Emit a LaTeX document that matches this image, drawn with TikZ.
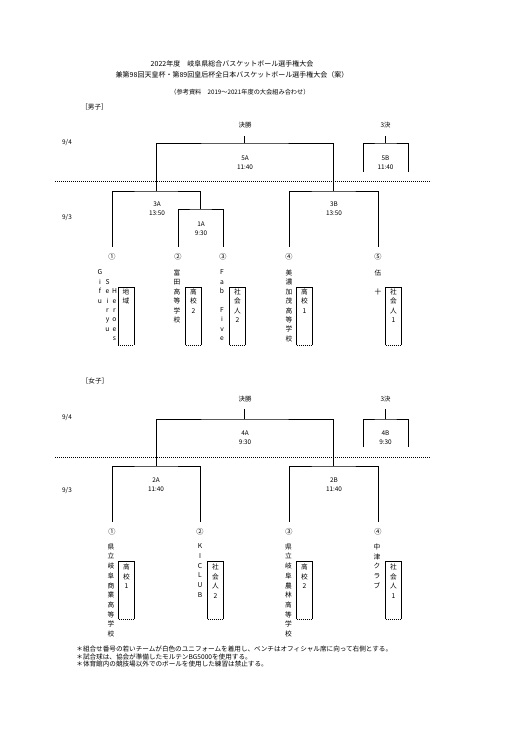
\documentclass[tikz,border=0pt]{standalone}
\usepackage{fontspec}
\setmainfont{Noto Sans CJK JP}
\begin{document}
\begin{tikzpicture}[x=1pt, y=-1pt, line width=0.8pt,
    lbl/.style={font=\fontsize{6.4}{9}\selectfont, align=center, inner sep=0},
    num/.style={font=\fontsize{7.2}{8}\selectfont, inner xsep=0, inner ysep=6.4pt},
    vcol/.style={font=\fontsize{6.7}{#1}\selectfont, align=center, inner sep=0, anchor=north,
                 execute at begin node={\vrule width 0pt height 6pt\relax}},
    vcol/.default=9.4,
    teambox/.style={minimum width=15, minimum height=57, inner sep=0, anchor=north},
    daysep/.style={line width=0.5pt, dash pattern=on 1pt off 1pt}]
    \useasboundingbox (0,0) rectangle (521,737);

    % 表題
    \node[font=\fontsize{7}{11}\selectfont, align=center] (title) at (232,69.5)
        {2022年度　岐阜県総合バスケットボール選手権大会\\兼第98回天皇杯・第89回皇后杯全日本バスケットボール選手権大会（案）};
    \node[font=\fontsize{6.2}{8}\selectfont] (sub) at (240,92) {（参考資料　2019～2021年度の大会組み合わせ）};

    % ===== 男子 =====
    \node[font=\fontsize{6.6}{8}\selectfont] (mhead) at (94.5,107) {［男子］};
    \node[lbl] (mfinal) at (245,125) {決勝};
    \node[lbl] (mthird) at (385.5,125) {3決};
    \node[lbl] (mday4) at (67,143) {9/4};
    \node[lbl] (mday3) at (67,218) {9/3};
    \draw[daysep] (55,181) -- (430,181);

    % 番号
    \foreach \i/\x/\s in {1/112/①, 2/178/②, 3/223/③, 4/289/④, 5/378/⑤} {
        \node[num] (mn\i) at (\x,257) {\s};
    }
    % 組み合わせ
    \coordinate (m1A) at (200.5,209);
    \coordinate (m3A) at (156,191);
    \coordinate (m3B) at (333.5,191);
    \coordinate (m5A) at (244.75,143);
    \coordinate (m5At) at (244.75,136);
    \coordinate (m5B) at (385.5,143);
    \coordinate (m5Bt) at (385.5,136);
    \coordinate (m5Bl) at (363,172);
    \coordinate (m5Br) at (408,172);
    \draw (mn2.north) |- (m1A) -| (mn3.north);
    \draw (mn1.north) |- (m3A) -| (m1A);
    \draw (mn4.north) |- (m3B) -| (mn5.north);
    \draw (m3A) |- (m5A) -| (m3B);
    \draw (m5A) -- (m5At);
    \draw (m5Bl) |- (m5B) -| (m5Br);
    \draw (m5B) -- (m5Bt);
    % 試合番号・時刻
    \node[lbl] (m5Alb) at (245,162.5) {5A\\11:40};
    \node[lbl] (m5Blb) at (385.5,162.5) {5B\\11:40};
    \node[lbl] (m3Alb) at (157,209) {3A\\13:50};
    \node[lbl] (m1Alb) at (201,228.5) {1A\\9:30};
    \node[lbl] (m3Blb) at (334,209) {3B\\13:50};

    % チーム名
    \node[vcol] (mt1a) at (100,269.5) {G\\i\\f\\u};
    \node[vcol] (mt1b) at (107.5,278.9) {S\\e\\i\\r\\y\\u};
    \node[vcol] (mt1c) at (114.5,288.3) {H\\e\\r\\o\\e\\s};
    \node[vcol] (mt2) at (177,269.5) {富\\田\\高\\等\\学\\校};
    \node[vcol] (mt3) at (222,269.5) {F\\a\\b\\\mbox{}\\F\\i\\v\\e};
    \node[vcol] (mt4) at (289,269.5) {美\\濃\\加\\茂\\高\\等\\学\\校};
    \node[vcol] (mt5) at (378,269.5) {伍\\\mbox{}\\十};

    % 区分
    \foreach \i/\x/\txt in {1/126/{地\\域}, 2/193.5/{高\\校\\2}, 3/237.5/{社\\会\\人\\2},
                            4/304.5/{高\\校\\1}, 5/393.5/{社\\会\\人\\1}} {
        \node[teambox] (mb\i) at (\x,287) {};
        \node[vcol] (mbt\i) at ([yshift=-1.5]mb\i.north) {\txt};
        \draw[line width=0.5pt] (mb\i.south west) |- (mb\i.north east) -- (mb\i.south east);
        \draw[daysep] (mb\i.south west) -- (mb\i.south east);
    }

    % ===== 女子 =====
    \node[font=\fontsize{6.6}{8}\selectfont] (whead) at (95,381) {［女子］};
    \node[lbl] (wfinal) at (245,399) {決勝};
    \node[lbl] (wthird) at (385.5,399) {3決};
    \node[lbl] (wday4) at (67,418) {9/4};
    \node[lbl] (wday3) at (67,491) {9/3};
    \draw[daysep] (55,457) -- (430,457);

    % 番号
    \foreach \i/\x/\s in {1/112/①, 2/200/②, 3/289/③, 4/378/④} {
        \node[num] (wn\i) at (\x,532) {\s};
    }
    % 組み合わせ
    \coordinate (w2A) at (156,466);
    \coordinate (w2B) at (333.5,466);
    \coordinate (w4A) at (244.75,419);
    \coordinate (w4At) at (244.75,409);
    \coordinate (w4B) at (385.5,419);
    \coordinate (w4Bt) at (385.5,409);
    \coordinate (w4Bl) at (363,447);
    \coordinate (w4Br) at (408,447);
    \draw (wn1.north) |- (w2A) -| (wn2.north);
    \draw (wn3.north) |- (w2B) -| (wn4.north);
    \draw (w2A) |- (w4A) -| (w2B);
    \draw (w4A) -- (w4At);
    \draw (w4Bl) |- (w4B) -| (w4Br);
    \draw (w4B) -- (w4Bt);
    % 試合番号・時刻
    \node[lbl] (w4Alb) at (245,437.5) {4A\\9:30};
    \node[lbl] (w4Blb) at (385.5,437.5) {4B\\9:30};
    \node[lbl] (w2Alb) at (156,484.5) {2A\\11:40};
    \node[lbl] (w2Blb) at (334,484.5) {2B\\11:40};

    % チーム名
    \node[vcol=9.7] (wt1) at (111,543.5) {県\\立\\岐\\阜\\商\\業\\高\\等\\学\\校};
    \node[vcol=9.7] (wt2) at (200,543.5) {K\\I\\C\\L\\U\\B};
    \node[vcol=9.7] (wt3) at (288.5,543.5) {県\\立\\岐\\阜\\農\\林\\高\\等\\学\\校};
    \node[vcol=9.7] (wt4) at (377,543.5) {中\\津\\ク\\ラ\\ブ};

    % 区分
    \foreach \i/\x/\txt in {1/126.5/{高\\校\\1}, 2/215.5/{社\\会\\人\\2},
                            3/304.5/{高\\校\\2}, 4/393.5/{社\\会\\人\\1}} {
        \node[teambox] (wb\i) at (\x,561) {};
        \node[vcol=9.7] (wbt\i) at ([yshift=-2.5]wb\i.north) {\txt};
        \draw[line width=0.5pt] (wb\i.south west) |- (wb\i.north east) -- (wb\i.south east);
        \draw[daysep] (wb\i.south west) -- (wb\i.south east);
    }

    % 注意事項
    \node[anchor=north west, align=left, inner sep=0, font=\fontsize{6.6}{7.2}\selectfont] (notes) at (76,646)
        {＊組合せ番号の若いチームが白色のユニフォームを着用し、ベンチはオフィシャル席に向って右側とする。\\
         ＊試合球は、協会が準備したモルテンBG5000を使用する。\\
         ＊体育館内の競技場以外でのボールを使用した練習は禁止する。};
\end{tikzpicture}
\end{document}
